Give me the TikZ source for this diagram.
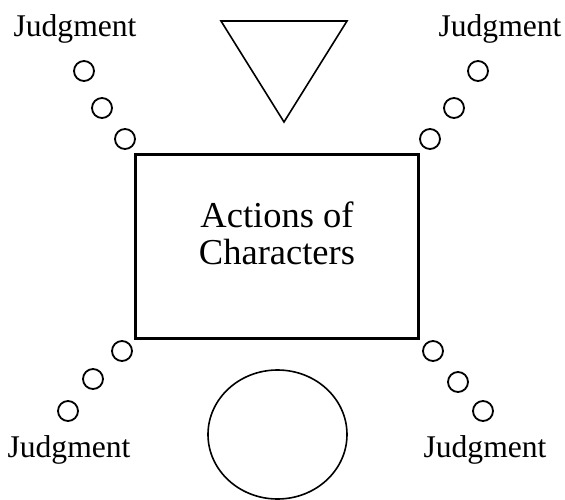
\documentclass[tikz,border=0pt]{standalone}
\usepackage{fontspec}
\setmainfont{Liberation Serif}
\usepackage{tikz}
\usetikzlibrary{shapes.geometric, positioning}
\tikzset{
  actbox/.style = {rectangle, draw=black, line width=2.2pt, minimum width=283pt,
                   minimum height=184pt, inner sep=0pt},
  ring/.style   = {circle, draw=black, line width=1.8pt, minimum size=20pt,
                   inner sep=0pt},
  bigring/.style= {ellipse, draw=black, line width=1.6pt, minimum width=139pt,
                   minimum height=129pt, inner sep=0pt},
  judg/.style   = {font=\fontsize{31.6}{36}\selectfont, inner sep=0pt, anchor=base},
}
\begin{document}
\begin{tikzpicture}[x=1pt, y=-1pt,
  actlabel/.style={font=\fontsize{36.5}{37}\selectfont, align=center, inner sep=0pt},
]
\useasboundingbox (0,0) rectangle (565,500);

% Central box
\node[actbox] (acts) at (277,246.5) {};
\node[actlabel] (actstext) at (277,233) {Actions of\\Characters};

% Triangle and circle
\draw[line width=1.6pt] (221,21) coordinate (tria) -- (347,21) coordinate (trib)
  -- (284,122) coordinate (tric) -- cycle;
\node[bigring] (fate) at (277.5,434.5) {};

% Small circles, top left
\node[ring] (tl1) at (84,71)  {};
\node[ring] (tl2) at (102,108) {};
\node[ring] (tl3) at (125,139) {};
% top right
\node[ring] (tr1) at (478,71)  {};
\node[ring] (tr2) at (454,108) {};
\node[ring] (tr3) at (430,139) {};
% bottom left
\node[ring] (bl1) at (122,351) {};
\node[ring] (bl2) at (93,379)  {};
\node[ring] (bl3) at (68,411)  {};
% bottom right
\node[ring] (br1) at (433,351) {};
\node[ring] (br2) at (458,382) {};
\node[ring] (br3) at (483,411) {};

% Labels
\node[judg] (jtl) at (75,37)   {Judgment};
\node[judg] (jtr) at (500,37)  {Judgment};
\node[judg] (jbl) at (69,457)  {Judgment};
\node[judg] (jbr) at (485,457) {Judgment};

\end{tikzpicture}
\end{document}
